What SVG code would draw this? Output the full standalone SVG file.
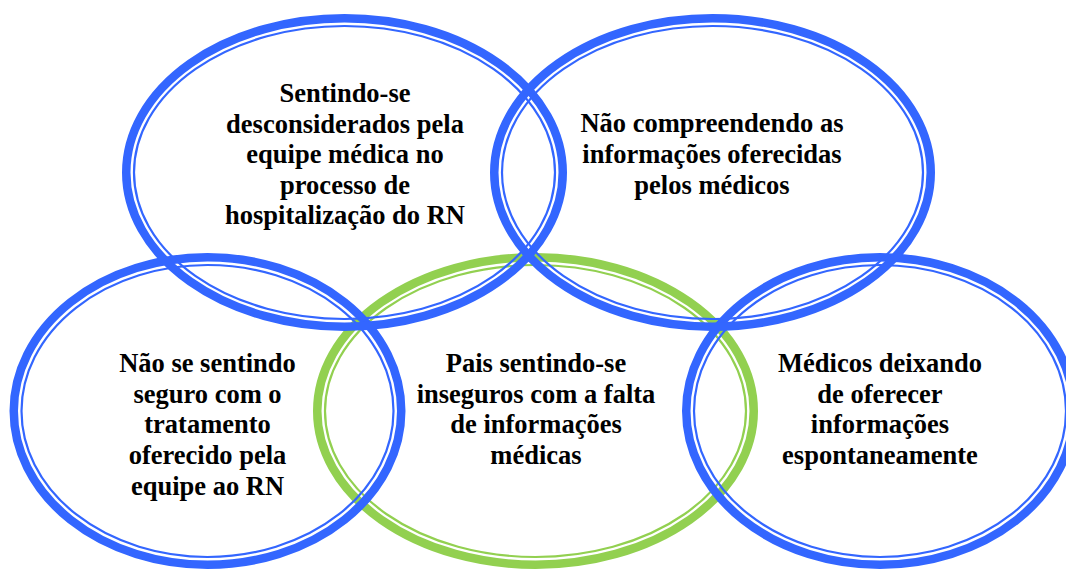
<svg xmlns="http://www.w3.org/2000/svg" width="1066" height="569" viewBox="0 0 1066 569">
<style>
.thick{fill:none;stroke-width:8.5}
.thin{fill:none;stroke-width:2.2}
.blue{stroke:#3366FF}
.green{stroke:#92D050}
.t{font-family:"Liberation Serif","Times New Roman",serif;font-weight:bold;font-size:26.5px;fill:#000;text-anchor:middle}
</style>
<rect width="1066" height="569" fill="#fff"/>
<g id="connectors"></g>
<g id="node-pais">
<ellipse class="thick green" cx="535.5" cy="411" rx="218.25" ry="153.75"/>
<ellipse class="thin green" cx="535.5" cy="411" rx="210.5" ry="146"/>
<text class="t" x="536" y="372">Pais sentindo-se</text>
<text class="t" x="536" y="402.5">inseguros com a falta</text>
<text class="t" x="536" y="433">de informações</text>
<text class="t" x="536" y="463.5">médicas</text>
</g>
<g id="node-nao-seguro">
<ellipse class="thick blue" cx="207.5" cy="411" rx="193.75" ry="153.75"/>
<ellipse class="thin blue" cx="207.5" cy="411" rx="186" ry="146"/>
<text class="t" x="207.5" y="372">Não se sentindo</text>
<text class="t" x="207.5" y="402.5">seguro com o</text>
<text class="t" x="207.5" y="433">tratamento</text>
<text class="t" x="207.5" y="463.5">oferecido pela</text>
<text class="t" x="207.5" y="494.5">equipe ao RN</text>
</g>
<g id="node-medicos">
<ellipse class="thick blue" cx="880" cy="411" rx="193.75" ry="153.75"/>
<ellipse class="thin blue" cx="880" cy="411" rx="186" ry="146"/>
<text class="t" x="880" y="372">Médicos deixando</text>
<text class="t" x="880" y="402.5">de oferecer</text>
<text class="t" x="880" y="433">informações</text>
<text class="t" x="880" y="463.5">espontaneamente</text>
</g>
<g id="node-desconsiderados">
<ellipse class="thick blue" cx="344.5" cy="172.5" rx="218.25" ry="154.25"/>
<ellipse class="thin blue" cx="344.5" cy="172.5" rx="210.5" ry="146.5"/>
<text class="t" x="345" y="102">Sentindo-se</text>
<text class="t" x="345" y="132.5">desconsiderados pela</text>
<text class="t" x="345" y="163">equipe médica no</text>
<text class="t" x="345" y="193.5">processo de</text>
<text class="t" x="345" y="224">hospitalização do RN</text>
</g>
<g id="node-nao-compreendendo">
<ellipse class="thick blue" cx="712.5" cy="172.5" rx="218.25" ry="154.25"/>
<ellipse class="thin blue" cx="712.5" cy="172.5" rx="210.5" ry="146.5"/>
<text class="t" x="712" y="132">Não compreendendo as</text>
<text class="t" x="712" y="163">informações oferecidas</text>
<text class="t" x="712" y="193.5">pelos médicos</text>
</g>
</svg>
